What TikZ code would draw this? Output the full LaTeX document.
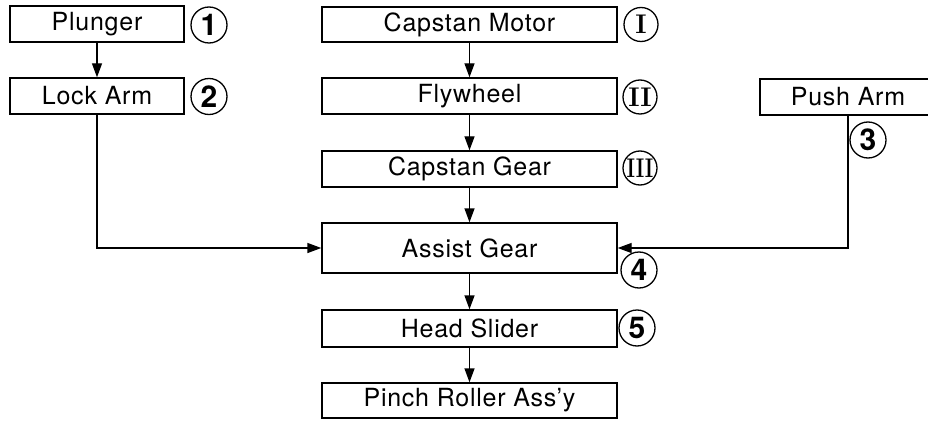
\documentclass[tikz,border=0pt]{standalone}
\usepackage{fontspec}
\setmainfont[LetterSpace=3]{TeX Gyre Heros}
\newfontfamily\romfont{Latin Modern Roman}
\usepackage{graphicx}
\usetikzlibrary{arrows.meta}

\begin{document}
\begin{tikzpicture}[x=1pt,y=-1pt,
    part/.style={draw,line width=1.4pt,inner sep=0pt,font=\fontsize{25}{28}\selectfont},
    digit/.style={draw,circle,line width=1.3pt,minimum size=36pt,inner sep=0pt,font=\fontsize{30}{32}\selectfont\bfseries},
    roman/.style={draw,circle,line width=1.3pt,minimum size=34pt,inner sep=0pt,font=\fontsize{27}{30}\romfont\bfseries},
    link/.style={line width=1.4pt,-{Triangle[length=14pt,width=10pt]}}]
        \useasboundingbox (0,0) rectangle (928,422);
        % left column
        \node [part,minimum width=174pt,minimum height=36pt] (plunger) at (97,24) {Plunger};
        \node [part,minimum width=174pt,minimum height=36pt] (lockarm) at (97,96) {Lock Arm};
        % middle column
        \node [part,minimum width=295pt,minimum height=35pt] (motor) at (469.5,24.5) {Capstan Motor};
        \node [part,minimum width=295pt,minimum height=36pt] (flywheel) at (469.5,96) {Flywheel};
        \node [part,minimum width=295pt,minimum height=36pt] (capgear) at (469.5,169) {Capstan Gear};
        \node [part,minimum width=295pt,minimum height=50pt] (assist) at (469.5,248) {Assist Gear};
        \node [part,minimum width=295pt,minimum height=37pt] (slider) at (469.5,328.5) {Head Slider};
        \node [part,minimum width=295pt,minimum height=35pt] (pinch) at (469.5,400.5) {Pinch Roller Ass’y};
        % right column
        \node [part,minimum width=176pt,minimum height=36pt] (pusharm) at (848,97) {Push Arm};
        % numbers
        \node [digit] (c1) at (209,25) {1};
        \node [digit] (c2) at (209,96.5) {2};
        \node [digit] (c3) at (868,140) {3};
        \node [digit] (c4) at (639,270) {4};
        \node [digit] (c5) at (637,328) {5};
        \node [roman] (cI) at (641,24.5) {I};
        \node [roman] (cII) at (640,97) {II};
        \node [roman] (cIII) at (640,168) {\scalebox{0.75}[1]{III}};
        % connectors
        \draw [link] (plunger) -- (lockarm);
        \draw [link] (motor) -- (flywheel);
        \draw [link] (flywheel) -- (capgear);
        \draw [link] (capgear) -- (assist);
        \draw [link] (assist) -- (slider);
        \draw [link] (slider) -- (pinch);
        \draw [link] (lockarm.south) |- (assist.west);
        \draw [link] (pusharm.south) |- (assist.east);
\end{tikzpicture}
\end{document}
